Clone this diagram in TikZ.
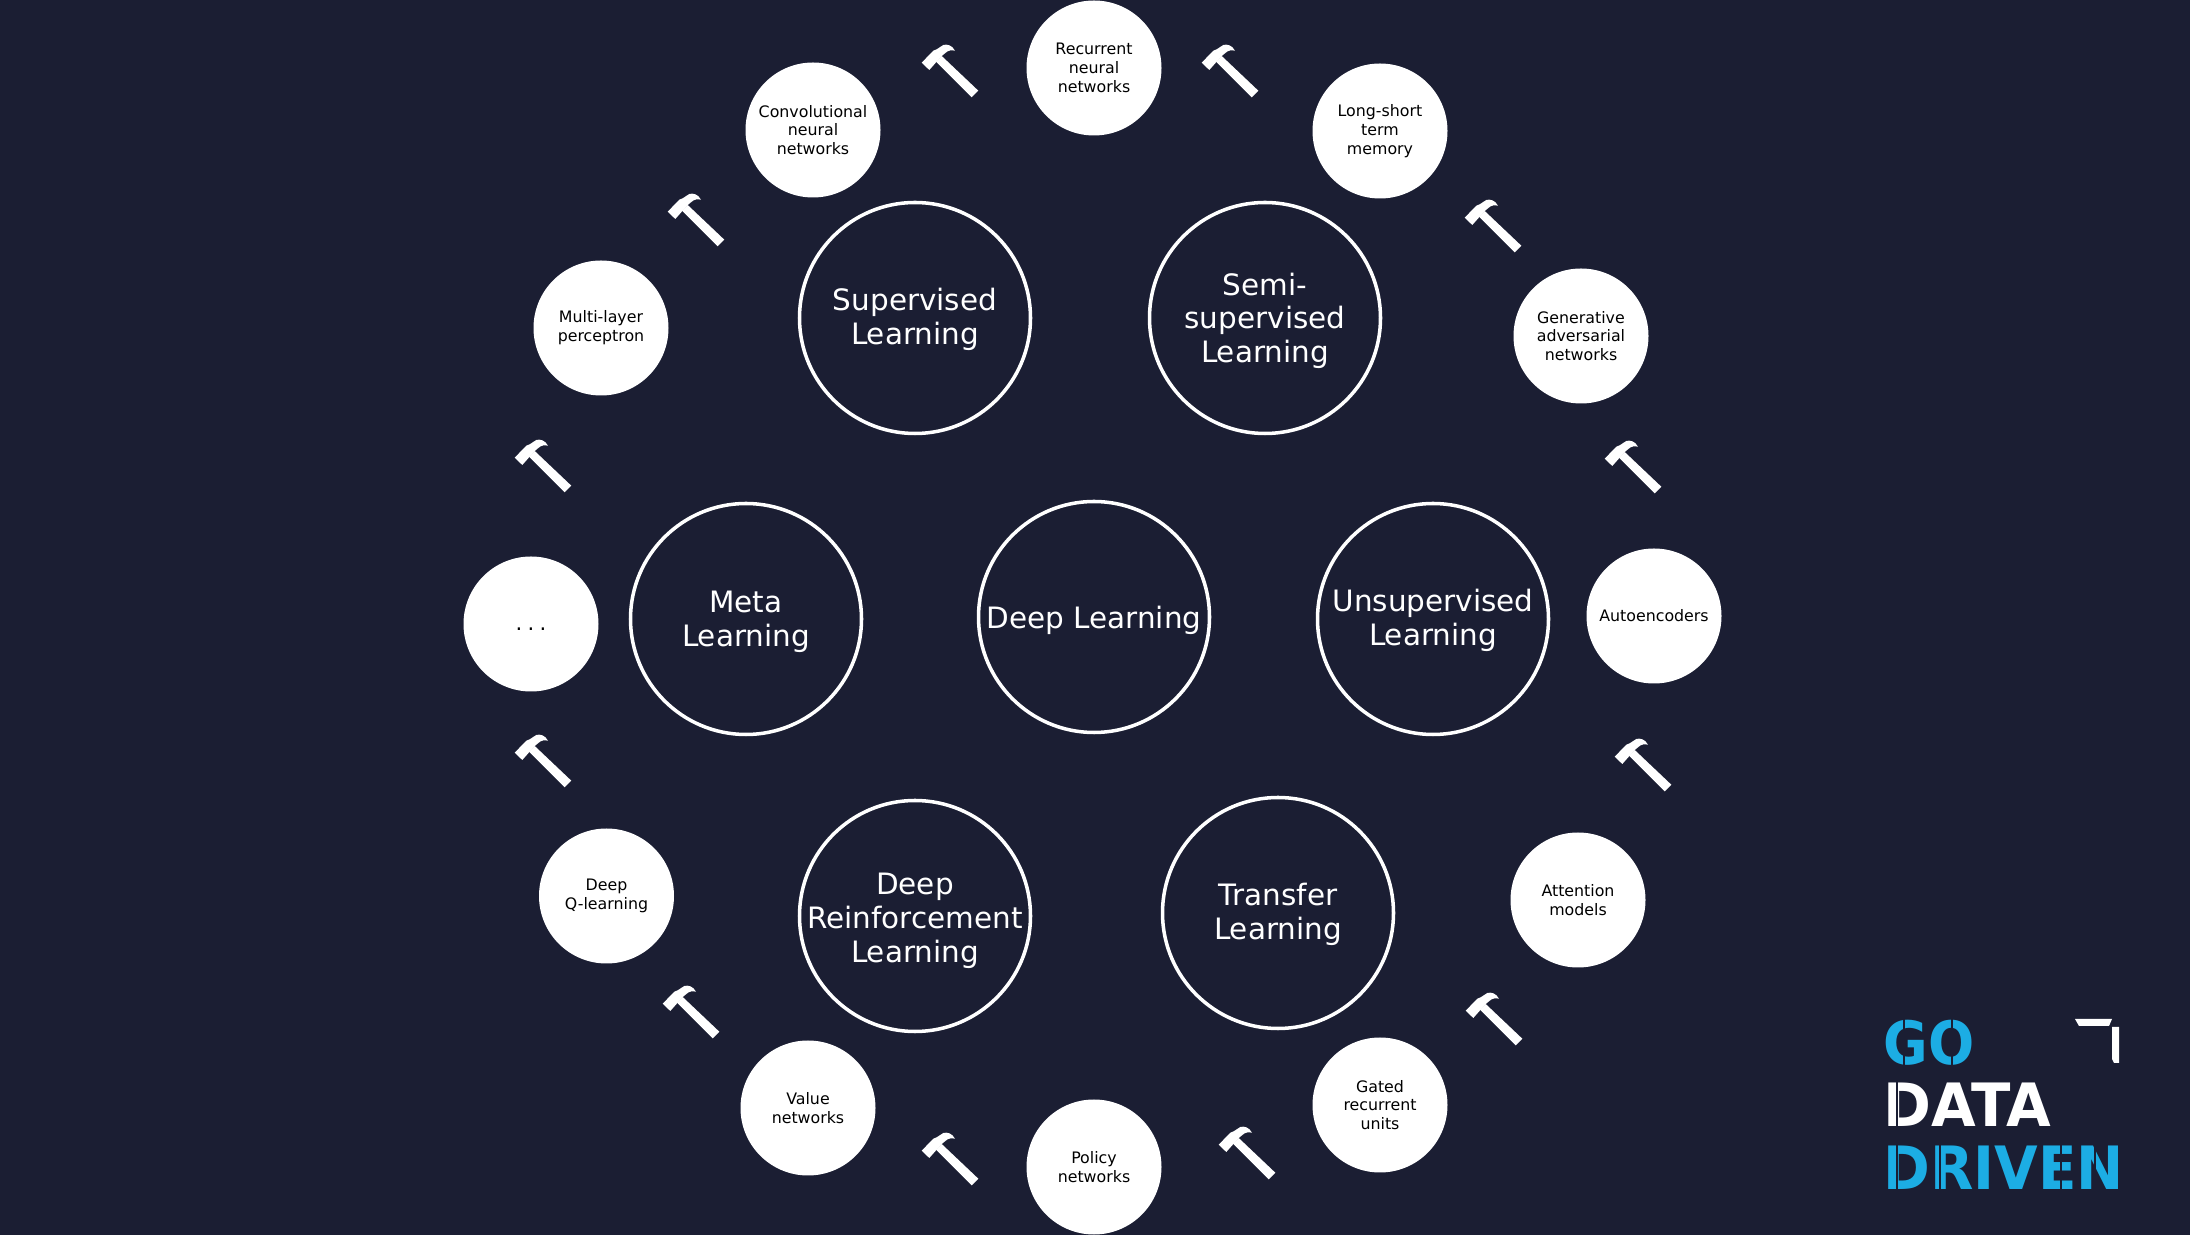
\documentclass[tikz,border=0pt]{standalone}
\usepackage{fontspec}
\setmainfont{DejaVu Sans}
\definecolor{darkbg}{RGB}{27,30,51}
\definecolor{logoblue}{RGB}{28,173,228}
\tikzset{
    bigcircle/.style={circle,draw=white,line width=1pt,minimum size=2.31cm,inner sep=0pt,align=center,text=white,font=\fontsize{8.38}{9.67}\selectfont},
    toolcircle/.style={circle,fill=white,minimum size=1.35cm,inner sep=0pt,align=center,text=black,font=\fontsize{4.5}{5.35}\selectfont},
    logotext/.style={anchor=base west,inner sep=0pt,font=\fontsize{17}{17}\bfseries\selectfont},
    logocut/.style={draw=darkbg,line width=0.6pt},
    hammer/.pic={
        \fill[white] (0.283,-0.207) -- (0.217,-0.273) -- (-0.14,0.083) -- (-0.083,0.14) -- cycle;
        \fill[white] (-0.283,0.073) -- (-0.207,0) -- (-0.083,0.14) -- (-0.05,0.167)
            .. controls (-0.02,0.2) and (0.02,0.2) .. (0.05,0.193)
            .. controls (0.02,0.25) and (-0.03,0.26) .. (-0.067,0.25)
            -- (-0.133,0.207) -- (-0.167,0.193) -- cycle;
    }
}
\begin{document}
\begin{tikzpicture}
    \path[use as bounding box,fill=darkbg] (0,0) rectangle (21.9,12.35);

    % learning types
    \node[bigcircle] (deep) at (10.94,6.18) {\rule{0pt}{8.2pt}Deep Learning};
    \node[bigcircle] (supervised) at (9.15,9.17) {\rule{0pt}{7.2pt}Supervised\\Learning};
    \node[bigcircle] (semi) at (12.65,9.17) {\rule{0pt}{8pt}Semi-\\supervised\\Learning};
    \node[bigcircle] (unsupervised) at (14.33,6.16) {\rule{0pt}{7.2pt}Unsupervised\\Learning};
    \node[bigcircle] (transfer) at (12.78,3.22) {\rule{0pt}{7.4pt}Transfer\\Learning};
    \node[bigcircle,inner sep=-5pt] (reinforcement) at (9.15,3.19) {\rule{0pt}{8.8pt}Deep\\Reinforcement\\Learning};
    \node[bigcircle] (meta) at (7.46,6.16) {\rule{0pt}{7.6pt}Meta\\Learning};

    % tools
    \node[toolcircle] (rnn) at (10.94,11.67) {Recurrent\\neural\\networks};
    \node[toolcircle] (lstm) at (13.80,11.04) {Long-short\\term\\memory};
    \node[toolcircle] (gan) at (15.81,8.99) {Generative\\adversarial\\networks};
    \node[toolcircle] (auto) at (16.54,6.19) {Autoencoders};
    \node[toolcircle] (attention) at (15.78,3.35) {Attention\\models};
    \node[toolcircle] (gru) at (13.80,1.30) {Gated\\recurrent\\units};
    \node[toolcircle] (policy) at (10.94,0.68) {Policy\\networks};
    \node[toolcircle] (value) at (8.08,1.27) {Value\\networks};
    \node[toolcircle] (dqn) at (6.065,3.39) {Deep\\Q-learning};
    \node[toolcircle] (more) at (5.31,6.11) {\smash{\raisebox{-1.8pt}{\fontsize{6}{6}\selectfont .\hspace{0.25em}.\hspace{0.25em}.}}};
    \node[toolcircle] (mlp) at (6.01,9.07) {Multi-layer\\perceptron};
    \node[toolcircle] (cnn) at (8.13,11.05) {Convolutional\\neural\\networks};

    % hammers
    \pic at (9.50,11.65) {hammer};
    \pic at (12.30,11.65) {hammer};
    \pic at (14.93,10.10) {hammer};
    \pic at (16.33,7.69) {hammer};
    \pic at (16.43,4.71) {hammer};
    \pic at (14.94,2.17) {hammer};
    \pic at (12.47,0.83) {hammer};
    \pic at (9.50,0.77) {hammer};
    \pic at (6.91,2.24) {hammer};
    \pic at (5.43,4.75) {hammer};
    \pic at (5.43,7.70) {hammer};
    \pic at (6.96,10.16) {hammer};

    % logo
    \node[logotext,text=logoblue] (go) at (18.83,1.70) {\scalebox{0.91}[1]{GO}};
    \node[logotext,text=white] (data) at (18.83,1.08) {\scalebox{0.966}[1]{DATA}};
    \node[logotext,text=logoblue] (driven) at (18.83,0.45) {\scalebox{0.943}[1]{DRIVEN}};
    \fill[white] (20.75,2.16) -- (21.12,2.16) -- (21.09,2.09) -- (20.79,2.09) -- cycle;
    \fill[white] (21.12,2.08) -- (21.19,2.08) -- (21.19,1.72) -- (21.14,1.72) -- (21.12,1.76) -- cycle;
    % stencil gaps
    \draw[logocut] (18.97,1.05) -- (18.97,1.56);
    \draw[logocut] (18.97,0.42) -- (18.97,0.93);
    \draw[logocut] (19.40,0.42) -- (19.40,0.93);
    \draw[logocut] (20.61,0.42) -- (20.61,0.93);
    \draw[logocut] (20.95,0.42) -- (20.95,0.93);
    \draw[logocut] (19.04,1.68) -- (19.04,2.20);
    \draw[logocut] (19.52,1.68) -- (19.52,2.20);
\end{tikzpicture}
\end{document}
